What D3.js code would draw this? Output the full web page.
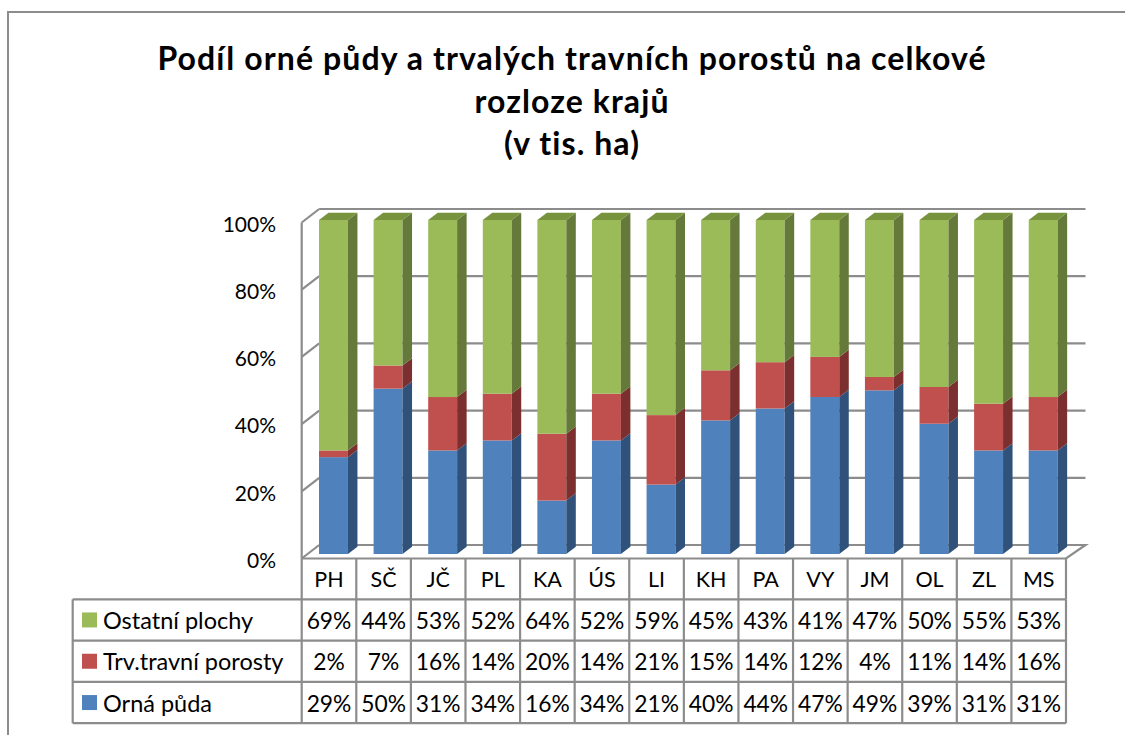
<!DOCTYPE html>
<html>
<head>
<meta charset="utf-8">
<script src="https://cdn.jsdelivr.net/npm/d3@7"></script>
<style>
  body { margin: 0; background: #ffffff; }
  text { font-family: Lato, "Open Sans", sans-serif; fill: #000; }
</style>
</head>
<body>
<div id="chart"></div>
<script>
const w = 1125;
const h = 735;

// data (percent of total area per region)
const kraje = ["PH", "SČ", "JČ", "PL", "KA", "ÚS", "LI", "KH", "PA", "VY", "JM", "OL", "ZL", "MS"];
const ornaPuda = [29, 50, 31, 34, 16, 34, 21, 40, 44, 47, 49, 39, 31, 31];
const trvPorosty = [2, 7, 16, 14, 20, 14, 21, 15, 14, 12, 4, 11, 14, 16];
const ostatniPlochy = [69, 44, 53, 52, 64, 52, 59, 45, 43, 41, 47, 50, 55, 53];
const serieNames = ["Orná půda", "Trv.travní porosty", "Ostatní plochy"];
const yTicks = [0, 0.2, 0.4, 0.6, 0.8, 1];
const titleLines = ["Podíl orné půdy a trvalých travních porostů na celkové", "rozloze krajů", "(v tis. ha)"];

const colors = {
  "Orná půda": { front: "#4f81bd", side: "#30527a", top: "#3f6ea8" },
  "Trv.travní porosty": { front: "#c0504d", side: "#7b2f2e", top: "#9e3e3b" },
  "Ostatní plochy": { front: "#9bbb59", side: "#657a3a", top: "#77933d" }
};

const rows = kraje.map((k, i) => ({
  kraj: k,
  "Orná půda": ornaPuda[i],
  "Trv.travní porosty": trvPorosty[i],
  "Ostatní plochy": ostatniPlochy[i]
}));

let svg = d3.select("div#chart").append("svg")
  .attr("width", w).attr("height", h)
  .style("background-color", "#ffffff");

// outer frame (runs off the page at right and bottom)
svg.append("rect")
  .attr("x", 8).attr("y", 12).attr("width", 1300).attr("height", 900)
  .attr("fill", "none").attr("stroke", "#8c8c8c").attr("stroke-width", 2);

// title
svg.append("g").selectAll("text")
  .data(titleLines)
  .join("text")
  .attr("x", 572)
  .attr("y", (d, i) => 70 + i * 42.5)
  .attr("text-anchor", "middle")
  .style("font-size", "32px")
  .style("letter-spacing", "1.1px")
  .style("font-weight", "bold")
  .text(d => d);

// scales
const tableLeft = 72.7, tableRight = 1066;
const x = d3.scaleBand().domain(kraje).range([301.7, tableRight]);
const yFront = d3.scaleLinear().domain([0, 1]).range([558.5, 222.5]); // front axis plane
const yBack = d3.scaleLinear().domain([0, 1]).range([545, 209]);       // back wall
const yBar = d3.scaleLinear().domain([0, 1]).range([554, 220]);        // bar front faces
const depthX = 17.5;
const barDx = 9.5, barDy = -7.3;

const stack = d3.stack().keys(serieNames).offset(d3.stackOffsetExpand);
const series = stack(rows);

const grid = svg.append("g").attr("stroke", "#8c8c8c").attr("stroke-width", 2.2).attr("fill", "none");

// back wall gridlines
grid.selectAll("line.grid")
  .data(yTicks.filter(d => d > 0))
  .join("line")
  .attr("class", "grid")
  .attr("x1", x.range()[0] + depthX).attr("x2", 1085.5)
  .attr("y1", d => yBack(d)).attr("y2", d => yBack(d));

// left wall: front edge and tick diagonals
grid.append("line")
  .attr("x1", x.range()[0]).attr("x2", x.range()[0])
  .attr("y1", yFront(1)).attr("y2", yFront(0));
grid.selectAll("line.tick")
  .data(yTicks)
  .join("line")
  .attr("class", "tick")
  .attr("x1", x.range()[0]).attr("y1", d => yFront(d))
  .attr("x2", x.range()[0] + depthX).attr("y2", d => yBack(d));

// floor
grid.append("path")
  .attr("d", d3.line()([
    [x.range()[0] + depthX, yBack(0)],
    [1085.5, yBack(0)],
    [tableRight, yFront(0)],
    [x.range()[0], yFront(0)]
  ]));

// y labels
svg.append("g").selectAll("text")
  .data(yTicks)
  .join("text")
  .attr("x", 276)
  .attr("y", d => yFront(d) + 2)
  .attr("dy", "0.35em")
  .attr("text-anchor", "end")
  .style("font-size", "21px")
  .text(d => d3.format(".0%")(d));

// bars
const barW = x.bandwidth() * 0.53;
const barOff = x.bandwidth() * 0.317;
const bars = svg.append("g");

series.forEach((s, si) => {
  const c = colors[s.key];
  const g = bars.append("g");
  s.forEach(d => {
    const bx = x(d.data.kraj) + barOff;
    const yt = yBar(d[1]), yb = yBar(d[0]);
    g.append("rect")
      .attr("x", bx).attr("y", yt)
      .attr("width", barW).attr("height", yb - yt)
      .attr("fill", c.front);
    g.append("path")
      .attr("d", d3.line()([
        [bx + barW, yt], [bx + barW + barDx, yt + barDy],
        [bx + barW + barDx, yb + barDy], [bx + barW, yb]
      ]))
      .attr("fill", c.side);
    if (si === series.length - 1) {
      g.append("path")
        .attr("d", d3.line()([
          [bx, yt], [bx + barDx, yt + barDy],
          [bx + barW + barDx, yt + barDy], [bx + barW, yt]
        ]))
        .attr("fill", c.top);
    }
  });
});

// data table
const tableRows = serieNames.slice().reverse(); // Ostatní, Trv, Orná
const rowTop = 599.3, rowH = 41.3;
const tbl = svg.append("g");
const lineStyle = sel => sel.attr("stroke", "#8c8c8c").attr("stroke-width", 2.2);

// header row vertical lines
tbl.selectAll("line.hv")
  .data(kraje.concat(["end"]))
  .join("line")
  .attr("class", "hv")
  .attr("x1", (d, i) => x.range()[0] + i * x.step())
  .attr("x2", (d, i) => x.range()[0] + i * x.step())
  .attr("y1", yFront(0)).attr("y2", rowTop)
  .call(lineStyle);

tbl.selectAll("text.cat")
  .data(kraje)
  .join("text")
  .attr("class", "cat")
  .attr("x", d => x(d) + x.bandwidth() / 2)
  .attr("y", (yFront(0) + rowTop) / 2 + 1)
  .attr("dy", "0.35em")
  .attr("text-anchor", "middle")
  .style("font-size", "21.5px")
  .text(d => d);

// body grid
tbl.selectAll("line.hr")
  .data(d3.range(tableRows.length + 1))
  .join("line")
  .attr("class", "hr")
  .attr("x1", tableLeft).attr("x2", tableRight)
  .attr("y1", d => rowTop + d * rowH).attr("y2", d => rowTop + d * rowH)
  .call(lineStyle);
tbl.selectAll("line.bv")
  .data([tableLeft].concat(d3.range(kraje.length + 1).map(i => x.range()[0] + i * x.step())))
  .join("line")
  .attr("class", "bv")
  .attr("x1", d => d).attr("x2", d => d)
  .attr("y1", rowTop).attr("y2", rowTop + tableRows.length * rowH)
  .call(lineStyle);

tableRows.forEach((key, ri) => {
  const cy = rowTop + ri * rowH + rowH / 2;
  tbl.append("rect")
    .attr("x", 82).attr("y", cy - 7.5)
    .attr("width", 15).attr("height", 15)
    .attr("fill", colors[key].front);
  tbl.append("text")
    .attr("x", 103).attr("y", cy + 1)
    .attr("dy", "0.35em")
    .style("font-size", "23.5px")
    .text(key);
  tbl.append("g").selectAll("text")
    .data(rows)
    .join("text")
    .attr("x", d => x(d.kraj) + x.bandwidth() / 2)
    .attr("y", cy + 1)
    .attr("dy", "0.35em")
    .attr("text-anchor", "middle")
    .style("font-size", "22.8px")
    .text(d => d[key] + "%");
});
</script>
</body>
</html>
